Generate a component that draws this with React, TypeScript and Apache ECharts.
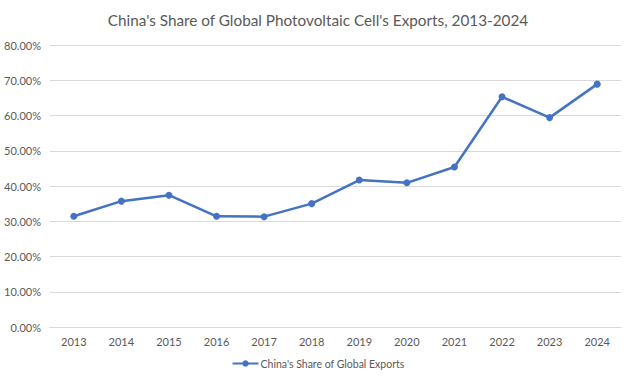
import React, { useEffect, useRef } from "react";
import * as echarts from "echarts";

const years = ["2013", "2014", "2015", "2016", "2017", "2018", "2019", "2020", "2021", "2022", "2023", "2024"];
const shareValues = [0.314, 0.357, 0.374, 0.314, 0.313, 0.350, 0.417, 0.409, 0.454, 0.653, 0.594, 0.689];
const seriesName = "China's Share of Global Exports";
const titleText = "China's Share of Global Photovoltaic Cell's Exports, 2013-2024";

export default function App() {
  const ref = useRef<HTMLDivElement>(null);
  useEffect(() => {
    if (!ref.current) return;
    const chart = echarts.init(ref.current, undefined, { renderer: "svg" });
    const font = "Lato, 'Noto Sans', sans-serif";
    chart.setOption({
      animation: false,
      backgroundColor: "#ffffff",
      title: {
        text: titleText,
        left: "center",
        top: 7,
        textStyle: { fontFamily: font, fontSize: 15.3, fontWeight: "normal", color: "#595959" },
      },
      legend: {
        bottom: 10,
        left: "center",
        itemWidth: 26,
        itemHeight: 8,
        itemGap: 4,
        data: [seriesName],
        textStyle: { fontFamily: font, fontSize: 10.5, color: "#595959", padding: [0, 0, 0, -3] },
      },
      grid: { left: 50, right: 15, top: 45, bottom: 57, containLabel: false },
      xAxis: {
        type: "category",
        data: years,
        boundaryGap: true,
        axisLine: { lineStyle: { color: "#d9d9d9" } },
        axisTick: { show: false },
        axisLabel: { fontFamily: font, fontSize: 11, color: "#595959", margin: 9 },
      },
      yAxis: {
        type: "value",
        min: 0,
        max: 0.8,
        interval: 0.1,
        axisLine: { show: false },
        axisTick: { show: false },
        splitLine: { lineStyle: { color: "#d9d9d9", width: 1 } },
        axisLabel: {
          fontFamily: font,
          fontSize: 11,
          color: "#595959",
          margin: 9,
          formatter: (v: number) => (v * 100).toFixed(2) + "%",
        },
      },
      series: [
        {
          name: seriesName,
          type: "line",
          data: shareValues,
          symbol: "circle",
          symbolSize: 7,
          itemStyle: { color: "#4472C4" },
          lineStyle: { color: "#4472C4", width: 2.5 },
        },
      ],
    });
    return () => chart.dispose();
  }, []);
  return <div ref={ref} style={{ width: 636, height: 384, position: "absolute", left: 0, top: 0 }} />;
}
